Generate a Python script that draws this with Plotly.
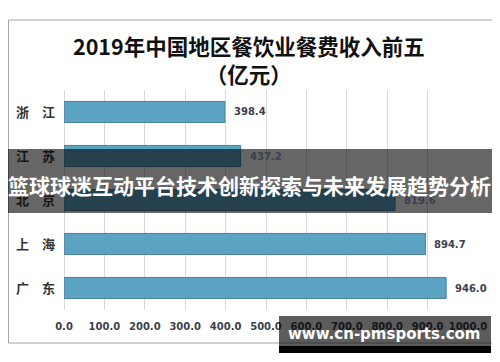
import plotly.graph_objects as go

regions = ["浙江", "江苏", "北京", "上海", "广东"]
region_labels = ["浙　江", "江　苏", "北　京", "上　海", "广　东"]
revenue = [398.4, 437.2, 819.6, 894.7, 946.0]
x_ticks = [0, 100, 200, 300, 400, 500, 600, 700, 800, 900, 1000]

title_text = "2019年中国地区餐饮业餐费收入前五<br>（亿元）"
banner_text = "篮球球迷互动平台技术创新探索与未来发展趋势分析"
watermark_text = "www.cn-pmsports.com"

# The page body keeps its default 8px margin: positions below are window pixels
OFF = 8
W, H = 500 - OFF, 362 - OFF


def py(p):
    return 1 - (p - OFF) / H


def px(p):
    return (p - OFF) / W


fig = go.Figure()
fig.add_trace(go.Bar(
    x=revenue,
    y=regions,
    orientation="h",
    marker=dict(color="#5ca2c3", line=dict(color="#4a8099", width=1)),
    hoverinfo="skip",
))

for r, v in zip(regions, revenue):
    fig.add_annotation(
        x=v, y=r, xref="x", yref="y", text=f"{v:.1f}", showarrow=False,
        xanchor="left", xshift=7,
        font=dict(family="DejaVu Sans", size=10, color="#3b3f4e", weight="bold"),
    )

# title
fig.add_annotation(
    x=px(249), y=py(59), xref="paper", yref="paper", text=title_text,
    showarrow=False, xanchor="center", yanchor="middle",
    font=dict(family="Noto Sans CJK SC", size=21.5, color="#111111", weight="bold"),
)

# outer chart border
fig.add_shape(type="rect", xref="paper", yref="paper",
              x0=px(8.5), x1=px(494), y0=py(343), y1=py(20),
              line=dict(color="#a6a6a6", width=1), layer="below")

# banner overlay
fig.add_shape(type="rect", xref="paper", yref="paper",
              x0=px(8), x1=px(492), y0=py(213), y1=py(149),
              fillcolor="rgba(0,0,0,0.6)", line=dict(width=0), layer="above")
fig.add_annotation(
    x=px(249), y=py(185), xref="paper", yref="paper", text=banner_text,
    showarrow=False, xanchor="center", yanchor="middle",
    font=dict(family="Noto Sans CJK SC", size=21, color="white", weight="bold"),
)

# watermark
fig.add_shape(type="rect", xref="paper", yref="paper",
              x0=px(279), x1=px(491), y0=py(346), y1=py(316),
              fillcolor="rgba(0,0,0,0.64)", line=dict(width=0), layer="above")
fig.add_shape(type="rect", xref="paper", yref="paper",
              x0=px(279), x1=px(491), y0=py(353), y1=py(346),
              fillcolor="black", line=dict(width=0), layer="above")
fig.add_annotation(
    x=px(384), y=py(334), xref="paper", yref="paper", text=watermark_text,
    showarrow=False, xanchor="center", yanchor="middle",
    font=dict(family="DejaVu Sans", size=15, color="white", weight="bold"),
)

fig.update_layout(
    width=W, height=H,
    margin=dict(l=0, r=0, t=0, b=0, autoexpand=False),
    paper_bgcolor="white", plot_bgcolor="white",
    showlegend=False,
    bargap=0.52,
    xaxis=dict(
        domain=[px(64), px(468)], range=[0, 1000],
        tickvals=x_ticks, tickformat=".1f",
        showgrid=True, gridcolor="#d9d9d9", gridwidth=1,
        zeroline=True, zerolinecolor="#d9d9d9", zerolinewidth=1,
        ticks="", ticklabelstandoff=9, automargin=False,
        tickfont=dict(family="DejaVu Sans", size=10, color="#3b3f4e", weight="bold"),
        fixedrange=True,
    ),
    yaxis=dict(
        domain=[py(310), py(90)],
        categoryorder="array", categoryarray=regions,
        tickvals=regions, ticktext=region_labels,
        autorange="reversed", automargin=False,
        showgrid=False, zeroline=False, ticks="",
        ticklabelstandoff=8,
        tickfont=dict(family="Noto Sans CJK SC", size=13, color="#333333", weight="bold"),
        fixedrange=True,
    ),
)

fig.write_html("out.html")
